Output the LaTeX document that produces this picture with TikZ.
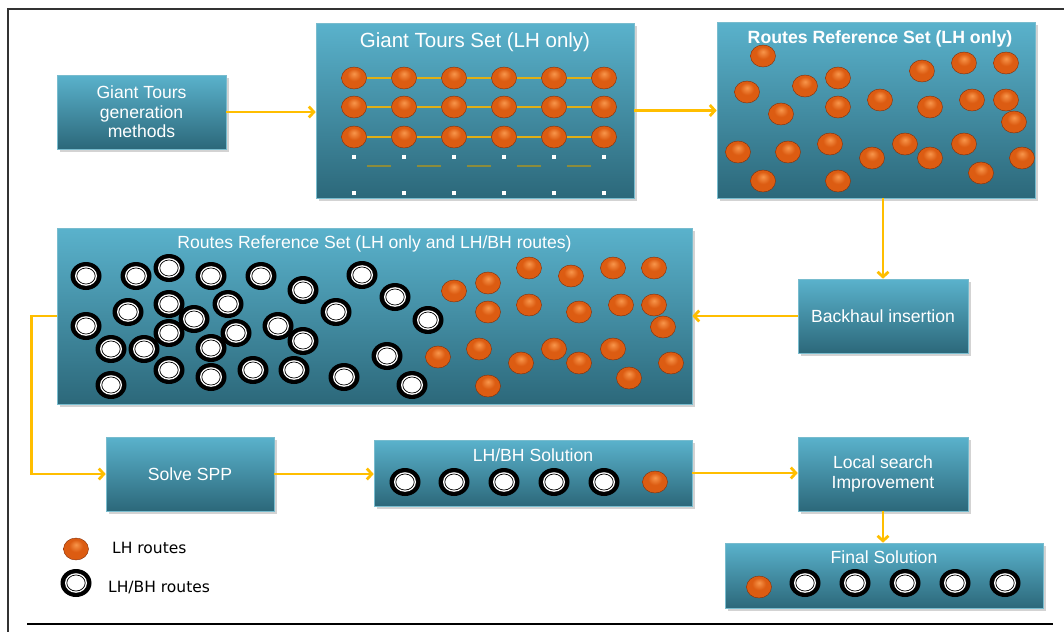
\documentclass[tikz,border=0pt]{standalone}
\usepackage{fontspec}
\setmainfont{Liberation Sans}
\newfontfamily\legfont{DejaVu Sans}
\usetikzlibrary{arrows.meta,shadows,calc}
\definecolor{boxtop}{RGB}{90,178,204}
\definecolor{boxbot}{RGB}{44,104,122}
\definecolor{boxline}{RGB}{120,188,206}
\definecolor{arrowc}{RGB}{255,190,0}
\definecolor{ballhi}{RGB}{248,150,75}
\definecolor{ballc}{RGB}{220,92,18}
\definecolor{balldk}{RGB}{130,45,8}
\definecolor{tourline}{RGB}{225,175,20}
\definecolor{dashol}{RGB}{140,140,60}
\pgfdeclareradialshading{lhball}{\pgfpoint{0bp}{10bp}}{color(0bp)=(ballhi); color(14bp)=(ballc); color(34bp)=(ballc); color(44bp)=(balldk); color(50bp)=(balldk)}
\begin{document}
\begin{tikzpicture}[x=1pt,y=-1pt,
  box/.style={draw=boxline, line width=0.6pt, top color=boxtop, bottom color=boxbot,
    text=white, align=center, inner sep=0pt, font=\fontsize{17.6}{19.5}\selectfont,
    drop shadow={shadow xshift=2.5pt,shadow yshift=-3pt,opacity=0.35}},
  boxtitle/.style={text=white, inner sep=0pt, anchor=base, font=\fontsize{17.6}{19.5}\selectfont},
  arr/.style={draw=arrowc, line width=2.8pt, -{Straight Barb[length=5pt,width=11pt]}},
  legtext/.style={text=black, inner sep=0pt, anchor=base west, font=\legfont\fontsize{15.5}{18}\selectfont},
  lh/.pic={\shade[shading=lhball, draw=balldk, line width=0.4pt] (0,0) ellipse [x radius=12.5pt, y radius=11pt];},
  bh/.pic={\fill[black] (0,0) ellipse [x radius=15.5pt, y radius=14pt];
           \fill[white] (0,0) ellipse [x radius=11pt, y radius=9.8pt];
           \draw[black, line width=0.7pt] (0,0) ellipse [x radius=9.2pt, y radius=8pt];}
]
\useasboundingbox (0,0) rectangle (1064,632);
% frame
\draw[line width=1.6pt, black!80] (1064,9) -- (8,9) -- (8,632);
\draw[line width=2.6pt, black] (27,624) -- (1053,624);

% boxes
\node[box, minimum width=169pt, minimum height=74pt] (gen) at (141.5,112) {Giant Tours\\generation\\methods};
\node[box, minimum width=318pt, minimum height=175pt] (gts) at (475,110.5) {};
\node[box, minimum width=318pt, minimum height=176pt] (rrs) at (876,110) {};
\node[box, minimum width=635pt, minimum height=176pt] (big) at (374.5,316) {};
\node[box, minimum width=170pt, minimum height=74pt] (bhi) at (883,316) {Backhaul insertion};
\node[box, minimum width=168pt, minimum height=74pt] (spp) at (190,474) {Solve SPP};
\node[box, minimum width=318pt, minimum height=66pt] (sol) at (533,473) {};
\node[box, minimum width=170pt, minimum height=74pt] (ls) at (883,474) {Local search\\Improvement};
\node[box, minimum width=318pt, minimum height=65pt] (fin) at (884,575.5) {};

% titles
\node[boxtitle, font=\fontsize{20.5}{22}\selectfont] (gtsT) at (475,47) {Giant Tours Set (LH only)};
\node[boxtitle, font=\bfseries\fontsize{17.7}{19.5}\selectfont] (rrsT) at (880,43) {Routes Reference Set (LH only)};
\node[boxtitle] (bigT) at (374.5,248) {Routes Reference Set (LH only and LH/BH routes)};
\node[boxtitle] (solT) at (533,461) {LH/BH Solution};
\node[boxtitle] (finT) at (884,563) {Final Solution};

% giant tours content
\foreach \r in {78,107,137} {
  \draw[tourline, line width=1.2pt] (354,\r) -- (604,\r);
  \foreach \c in {354,404,454,504,554,604} \pic at (\c,\r) {lh};
}
\foreach \c in {354,404,454,504,554,604} {
  \fill[white] (\c-2,155) rectangle (\c+2,159);
  \fill[white] (\c-2,191) rectangle (\c+2,195);
}
\foreach \c in {354,404,454,504,554} \draw[dashol, line width=1.5pt] (\c+13,166) -- (\c+37,166);

% routes reference set (LH only)
\foreach \p/\q in {763/56, 747/92, 805/86, 838/78, 781/114, 838/107, 880/100, 922/71, 964/63, 1006/63, 930/107, 972/100, 1006/100, 1014/122, 738/152, 788/152, 830/144, 872/158, 905/144, 930/158, 964/144, 1022/158, 981/173, 763/181, 838/181}
  \pic at (\p,\q) {lh};

% big box content
\foreach \p/\q in {86/276, 136/276, 169/268, 211/276, 261/276, 303/290, 362/275, 395/297, 428/320, 128/312, 169/304, 228/304, 194/319, 86/326, 169/333, 236/333, 278/326, 303/341, 336/312, 111/349, 144/349, 211/348, 387/356, 169/370, 211/377, 253/370, 294/370, 344/377, 412/385, 111/385}
  \pic at (\p,\q) {bh};
\foreach \p/\q in {454/291, 488/283, 529/268, 571/276, 613/268, 654/268, 488/312, 529/305, 579/312, 621/305, 654/305, 663/327, 438/357, 479/349, 521/363, 554/349, 579/363, 613/349, 671/363, 629/378, 488/386}
  \pic at (\p,\q) {lh};

% LH/BH solution
\foreach \c in {405,454,504,554,604} \pic at (\c,482) {bh};
\pic at (655,482) {lh};

% final solution
\pic at (759,587) {lh};
\foreach \c in {805,855,905,955,1005} \pic at (\c,583) {bh};

% legend
\pic at (76,549) {lh};
\pic at (76,583) {bh};
\node[legtext] (legLH) at (112,553) {LH routes};
\node[legtext] (legBH) at (108,592) {LH/BH routes};

% arrows
\draw[arr] (gen.east) -- (gen.east -| gts.west);
\draw[arr] (gts.east) -- (gts.east -| rrs.west);
\draw[arr] (bhi.north |- rrs.south) -- (bhi.north);
\draw[arr] (bhi.west) -- (bhi.west -| big.east);
\draw[arr] (big.west) -- ++(-25,0) |- (spp.west);
\draw[arr] (spp.east) -- (spp.east -| sol.west);
\draw[arr] (sol.east) -- (sol.east -| ls.west);
\draw[arr] (ls.south) -- (ls.south |- fin.north);
\end{tikzpicture}
\end{document}
